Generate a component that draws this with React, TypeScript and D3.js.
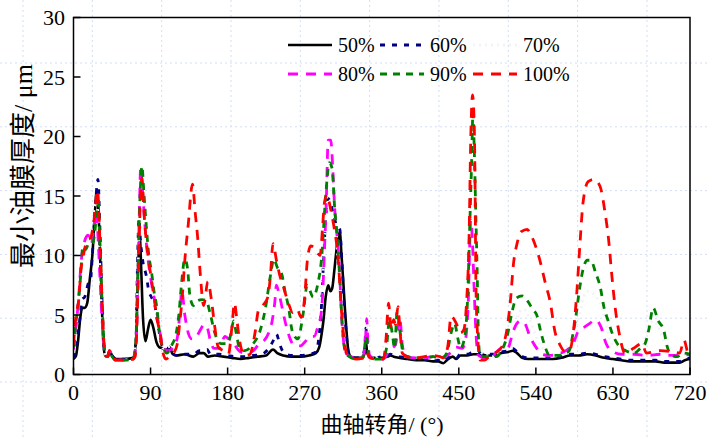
import React from "react";
import * as d3 from "d3";

type P = [number, number];

const xTicks = [0, 90, 180, 270, 360, 450, 540, 630, 720];
const yTicks = [0, 5, 10, 15, 20, 25, 30];

const s50: P[] = [
  [0, 1.3], [3, 1.6], [5, 2.6], [8, 4.8], [10, 5.6], [13, 5.6], [16, 6], [19, 8], [22, 10], [25, 13.5], [27, 15.4], [29, 14], [31, 10], [33, 6], [35, 2.5], [37, 1.6], [40, 1.5], [42, 2.0], [45, 1.6], [50, 1.3], [60, 1.3], [70, 1.4],
  [73, 3], [75, 8], [77.5, 11.5], [79, 9], [81, 5], [84, 2.8], [87, 3.8], [90, 4.6], [93, 4], [97, 2.7], [100, 2.3], [104, 2.2], [108, 2.0], [112, 2.3], [116, 1.7], [120, 1.6],
  [130, 1.7], [140, 1.5], [147, 1.8], [152, 1.8], [157, 1.5], [165, 1.6], [175, 1.5], [185, 1.4], [195, 1.3], [205, 1.4], [215, 1.5], [225, 1.6], [233, 2.1], [238, 1.8], [245, 1.6], [255, 1.5], [265, 1.5], [275, 1.6], [283, 1.8],
  [287, 2.3], [290, 3.5], [292, 4.6], [294.5, 6.5], [297.5, 7.5], [300, 7], [302, 7.2], [305, 9], [308, 11], [311, 12], [313, 10], [315, 7.9], [317, 5.5], [319, 3.5], [321, 2.0], [324, 1.5], [330, 1.4], [337, 1.4],
  [340, 1.8], [341.5, 2.8], [343, 1.8], [347, 1.5], [352, 1.4], [360, 1.4], [367, 1.5], [370, 1.6], [374, 1.5], [380, 1.4], [390, 1.3], [400, 1.2], [410, 1.2], [420, 1.1], [426, 1.1], [432, 0.95], [436, 1.2], [443, 1.5], [447, 1.3], [452, 1.6], [460, 1.6], [467, 1.7], [475, 1.7], [482, 1.6], [490, 1.6], [500, 1.8], [508, 1.9], [513, 2.0], [518, 1.8], [524, 1.4], [531, 1.3], [540, 1.3], [550, 1.3], [560, 1.3], [570, 1.4], [580, 1.6], [590, 1.6], [600, 1.7], [610, 1.6], [620, 1.4], [630, 1.3], [640, 1.2], [650, 1.1], [660, 1.1], [670, 1.1], [680, 1.1], [690, 1.0], [700, 1.0], [708, 1.0], [714, 1.2], [720, 1.3],
];

const s60: P[] = [
  [0, 1.4], [3, 2], [5, 3.3], [8, 5], [10, 6.3], [13, 6.5], [17, 7.6], [20, 8], [22, 10], [25, 13.5], [28.5, 16.4], [31, 12], [33, 7], [35, 3], [37, 1.6], [40, 1.5], [42, 2.0], [45, 1.6], [50, 1.3], [60, 1.3], [70, 1.4],
  [73, 3], [74.5, 8.5], [76.5, 13.1], [78, 11.5], [81, 9.5], [85, 8.3], [88, 7], [91, 6.5], [95, 5.8], [99, 4], [103, 2.5], [108, 2.0], [112, 2.3], [116, 1.8], [120, 1.6],
  [130, 1.7], [140, 1.7], [147, 2.0], [152, 2.0], [156, 2.1], [160, 1.7], [170, 1.7], [180, 1.6], [190, 1.5], [200, 1.5], [210, 1.6], [220, 1.7], [228, 2.2], [233, 2.8], [237, 3.4], [241, 2.5], [245, 1.9], [255, 1.6], [265, 1.6], [275, 1.7], [283, 1.9],
  [286, 2.8], [289, 5], [292, 9.5], [294.5, 13], [297, 14.8], [300, 14.5], [303, 13.6], [307, 12.6], [311, 12.2], [313.5, 9.5], [316, 6], [318.5, 3.5], [321, 1.9], [325, 1.5], [330, 1.4], [337, 1.5],
  [340, 2.2], [341.5, 3.9], [343.5, 2.0], [347, 1.5], [352, 1.4], [360, 1.5], [367, 1.6], [370, 1.7], [374, 1.6], [380, 1.5], [390, 1.4], [400, 1.3], [410, 1.3], [420, 1.2], [426, 1.2], [432, 1.1], [436, 1.3], [443, 1.6], [447, 1.4], [452, 1.7], [460, 1.7], [467, 1.9], [475, 1.8], [482, 1.7], [490, 1.7], [500, 1.9], [508, 2.0], [513, 2.2], [518, 1.9], [524, 1.5], [531, 1.4], [540, 1.4], [550, 1.4], [560, 1.4], [570, 1.5], [580, 1.7], [590, 1.7], [600, 1.8], [610, 1.7], [620, 1.5], [630, 1.4], [640, 1.3], [650, 1.2], [660, 1.2], [670, 1.2], [680, 1.2], [690, 1.1], [700, 1.1], [708, 1.1], [714, 1.3], [720, 1.4],
];

const s70: P[] = [
  [0, 2.2], [10, 9], [18, 11.3], [27, 14.5], [33, 5], [37, 1.6], [50, 1.2], [70, 1.3], [75, 8], [79, 17], [86, 11], [95, 6], [105, 2.2], [120, 3], [128, 8], [135, 6], [150, 5], [160, 4], [170, 2.4], [187, 3.5], [200, 1.9], [220, 3], [236, 8.5], [250, 4.5], [260, 2.8], [275, 5], [285, 6], [292, 9], [299, 18.5], [305, 14], [313, 5], [320, 1.6], [342, 4], [350, 1.3], [370, 3.5], [380, 4.5], [390, 1.5], [430, 1.4], [445, 3], [458, 3], [466, 18], [473, 2], [490, 1.5], [510, 3.5], [525, 5.5], [545, 2.5], [560, 1.6], [585, 3.5], [600, 7], [615, 6], [630, 2.5], [660, 2], [677, 4.5], [700, 1.6], [720, 1.7],
];

const s80: P[] = [
  [0, 2.1], [3, 4], [6, 6.5], [9, 9.5], [13, 11.2], [17, 11.7], [21, 11], [24, 12.5], [26.5, 13.8], [29, 11], [31, 8], [33, 5], [35, 3], [37, 1.7], [40, 1.5], [42, 2], [45, 1.5], [50, 1.2], [60, 1.2], [70, 1.3],
  [73, 2.5], [75, 7], [77, 14], [78.5, 17.5], [81, 15], [85.5, 10.7], [91, 7.7], [97, 5.4], [101, 3.5], [105, 2.3], [110, 2.0], [116, 2.2], [121, 3], [124, 5], [126.5, 7], [130, 5], [134, 3.5], [138, 3.0], [142, 3.0], [147, 3.6], [153, 4.2], [156, 4.0], [160, 2.8], [164, 2.2], [170, 2.2], [177, 3.2], [181, 3.0], [185, 2.9], [190, 2.3], [195, 1.9], [200, 1.8], [210, 2.0], [216, 2.5], [222, 2.8], [228, 3.5], [232, 4.5], [235, 6], [237, 7.5], [240, 6.8], [244, 5.5], [247, 4.5], [252, 3.2], [257, 2.5], [265, 2.4], [271, 2.8], [276, 3.2], [281, 3.2],
  [286, 4.2], [289, 5], [291, 6.8], [293, 10.3], [295, 14], [297.5, 19.7], [300.5, 19.7], [303, 17], [305, 14], [308, 11.5], [310, 9.8], [313, 5], [317, 2.1], [321, 1.6], [330, 1.4], [338, 1.5], [341, 3], [342.5, 4.7], [344, 2.5], [347, 1.4], [355, 1.3], [362, 1.3], [367, 1.8], [372, 2.2], [376, 2.5], [381, 4.8], [384, 2.5], [388, 1.5], [400, 1.4], [410, 1.4], [420, 1.5], [430, 1.4], [440, 1.8], [447, 2.3], [454, 2.2], [458, 3], [461, 6], [464, 13], [466, 11], [468, 7], [470, 3.5], [473, 1.6], [480, 1.4], [490, 1.6], [500, 2.2], [507, 2.2], [513, 3.5], [517, 4.2], [522, 4.5], [527, 4.3], [533, 3.2], [540, 2.3], [547, 1.7], [556, 1.6], [565, 1.7], [577, 2.1], [583, 2.5], [590, 3.7], [597, 4.0], [603, 4.3], [610, 4.6], [616, 4.0], [622, 2.6], [628, 2.0], [640, 1.7], [655, 1.7], [670, 1.6], [685, 1.7], [693, 1.6], [705, 1.6], [720, 1.7],
];

const s90: P[] = [
  [0, 2.3], [3, 4.5], [5, 5.5], [8, 8], [11, 10.8], [14, 10.5], [18, 11], [22, 11], [25, 12], [28.5, 15], [31, 11], [34, 5], [37, 1.6], [40, 1.5], [42, 2.0], [45, 1.5], [50, 1.2], [60, 1.2], [70, 1.4],
  [73, 3], [75, 8], [77, 13.5], [80, 17.5], [82, 15.5], [85, 12.5], [88, 10], [91, 8.7], [94, 7], [97, 5.8], [101, 3.2], [105, 2.2], [109, 1.8], [115, 2.5], [120, 3.5], [123, 5], [126, 7.5], [130, 9.7], [133, 9], [136, 6.6], [140, 5.8], [145, 6.2], [150, 6.3], [155, 6.2], [160, 5], [165, 3.5], [172, 2.6], [180, 2.6], [184, 3.5], [187, 4.5], [190, 3.5], [194, 2.2], [200, 2.0], [210, 2.6], [218, 3.7], [224, 5.5], [230, 8.3], [234, 9.7], [238, 9], [243, 8.5], [247, 7], [251, 5.7], [256, 3.5], [262, 3], [268, 5], [273, 7.5], [280, 6.5], [285, 7.5],
  [290, 10], [294, 14.5], [299, 17.8], [302, 17.3], [305, 14], [308, 11.5], [311, 8], [314, 4], [317, 2], [322, 1.5], [330, 1.3], [338, 1.4], [342, 3.2], [345, 1.5], [350, 1.3], [360, 1.3], [365, 2], [369, 4.5], [372, 3.6], [375, 2.2], [378, 5.3], [381, 3.8], [385, 1.8], [390, 1.5], [400, 1.4], [410, 1.4], [420, 1.5], [430, 1.4], [436, 1.8], [441, 3.5], [445, 4.3], [449, 3], [452, 2.2], [457, 3.2], [460, 6], [463, 13], [465, 18], [466.5, 22], [468, 19], [470, 13], [471.5, 8.5], [473, 3], [475, 1.5], [485, 1.5], [494, 1.5], [500, 2.0], [507, 3.4], [512, 5.2], [517, 6.4], [524, 6.6], [530, 6.2], [537, 5.4], [541, 5], [546, 3.5], [550, 2.5], [556, 1.6], [565, 1.6], [575, 1.8], [579, 2], [583, 3.3], [586, 4.5], [591, 7.2], [595, 8.8], [600, 9.6], [604, 9.6], [610, 8.5], [615, 7.4], [620, 5.5], [624, 4.6], [630, 3.3], [637, 2.4], [645, 2.0], [655, 1.8], [662, 2.2], [667, 2.5], [672, 3.8], [677, 5.6], [683, 4.5], [689, 3.8], [694, 2.2], [699, 1.6], [705, 1.5], [712, 1.8], [720, 1.7],
];

const s100: P[] = [
  [0, 2.5], [3, 5], [6, 6.2], [9, 9], [12, 10.2], [16, 11.3], [20, 11.5], [24, 13], [28, 15.5], [31, 11], [34, 5], [37, 1.6], [40, 1.5], [42, 2.0], [45, 1.5], [50, 1.2], [60, 1.2], [70, 1.3],
  [72, 1.5], [74, 4], [76, 9], [78, 14.5], [80, 16.5], [82, 14], [84, 12], [87, 10], [91, 8], [95, 6], [98, 4.5], [101, 3.6], [104, 2], [108, 1.3], [112, 1.5], [117, 1.8], [121, 2.5], [124, 4.3], [127, 6.5], [130, 9.6], [134, 12.6], [139, 16], [142, 13.7], [145, 11.5], [148, 8.5], [152, 5.8], [157, 7.8], [161, 6.3], [165, 4], [169, 2.3], [175, 2], [181, 1.7], [185, 4], [188, 6], [191, 4.5], [194, 2.8], [200, 1.6], [206, 1.7], [212, 3.5], [216, 5.4], [221, 5.8], [227, 6.5], [230, 8.3], [233, 11], [237, 9.6], [241, 8.3], [245, 7.4], [251, 6], [256, 5.2], [261, 5.5], [266, 4.8], [270, 6.5], [273, 9.5], [277, 10.8], [282, 10.6], [288, 10],
  [291, 12.5], [293, 14.4], [296, 15.1], [300, 14], [304, 12.5], [309, 9.8], [313, 5.3], [317, 2.4], [321, 1.5], [330, 1.3], [338, 1.4], [342, 1.9], [346, 1.4], [355, 1.3], [362, 1.3], [365, 3], [368, 6], [371, 3.8], [374, 4.6], [376, 4.2], [379, 5.7], [381, 4], [384, 1.8], [390, 1.5], [400, 1.4], [410, 1.5], [420, 1.6], [428, 1.5], [432, 1.4], [437, 2.3], [441, 4.9], [447, 4.3], [452, 3.5], [456, 3.8], [459, 6], [462, 11.6], [464, 20], [466, 23.5], [468, 21], [469, 15.8], [470, 7.5], [472, 3.2], [475, 1.2], [480, 1.2], [485, 1.5], [492, 1.8], [500, 2.3], [506, 3.7], [510, 6], [514, 9.4], [518, 11], [523, 12], [530, 12.2], [533, 11.9], [537, 11.3], [545, 9.5], [551, 7.7], [557, 6], [562, 3.7], [568, 2.5], [573, 2.0], [579, 2.0], [584, 3.7], [588, 7.1], [591.5, 11], [595, 14.4], [601, 16.2], [608, 16.4], [615, 15.8], [621, 13.5], [625, 11.3], [628.5, 8.5], [632, 6], [638, 3.2], [644, 1.8], [654, 2.2], [664, 2.6], [669, 1.8], [677, 1.9], [685, 2.0], [700, 1.9], [708, 1.8], [713, 2.9], [718, 1.8], [720, 1.9],
];

const seriesNames = ["50%", "60%", "70%", "80%", "90%", "100%"];
const seriesData = [s50, s60, s70, s80, s90, s100];
const seriesColors = ["#000000", "#000080", "#f3f3f6", "#ff00ff", "#008000", "#ff0000"];
const seriesDash = ["none", "5,7", "2,4", "10,8", "7,6", "10,8"];

const W = 709;
const H = 437;
const L = 73.5, R = 690, T = 17.5, B = 374.5;
const serif = "'Liberation Serif', 'Times New Roman', serif";
const cjk = "'Liberation Serif', 'Noto Sans CJK SC', serif";

export default function App() {
  const x = d3.scaleLinear().domain([0, 720]).range([L, R]);
  const y = d3.scaleLinear().domain([0, 30]).range([B, T]);
  const line = d3
    .line<P>()
    .x((d) => x(d[0]))
    .y((d) => y(d[1]))
    .curve(d3.curveMonotoneX);

  const gridX = d3.range(10).map((k) => 23 + k * 69.33);
  const gridY = d3.range(6).map((k) => 63 + k * 63.8);

  const legendPos = [
    [288, 45], [380, 45], [473, 45],
    [288, 74], [380, 74], [473, 74],
  ];

  return (
    <svg
      width={W}
      height={H}
      style={{ position: "absolute", left: 0, top: 0, background: "#fff" }}
    >
      <rect x={0} y={0} width={W} height={H} fill="#fff" />
      <g stroke="#d3ddf6" strokeWidth={1} strokeDasharray="2,3">
        {gridX.map((gx, i) => (
          <line key={"gx" + i} x1={gx} x2={gx} y1={0} y2={H} />
        ))}
        {gridY.map((gy, i) => (
          <line key={"gy" + i} x1={0} x2={W} y1={gy} y2={gy} />
        ))}
      </g>
      <defs>
        <clipPath id="plotclip">
          <rect x={L} y={T} width={R - L} height={B - T} />
        </clipPath>
      </defs>
      <g clipPath="url(#plotclip)">
        {seriesData.map((d, i) => (
          <path
            key={seriesNames[i]}
            d={line(d) || ""}
            fill="none"
            stroke={seriesColors[i]}
            strokeWidth={i === 0 ? 2.6 : 2.8}
            strokeDasharray={seriesDash[i]}
            strokeLinejoin="round"
          />
        ))}
      </g>
      <rect x={L} y={T} width={R - L} height={B - T} fill="none" stroke="#000" strokeWidth={1.5} />
      {xTicks.map((t) => (
        <g key={"xt" + t}>
          <line x1={x(t)} x2={x(t)} y1={B} y2={B - 7} stroke="#000" strokeWidth={1.5} />
          <text x={x(t)} y={400} textAnchor="middle" fontFamily={serif} fontSize={22} fill="#000">
            {t}
          </text>
        </g>
      ))}
      {yTicks.map((t) => (
        <g key={"yt" + t}>
          <line x1={L} x2={L + 7} y1={y(t)} y2={y(t)} stroke="#000" strokeWidth={1.5} />
          <text x={65} y={y(t) + 7.5} textAnchor="end" fontFamily={serif} fontSize={22} fill="#000">
            {t}
          </text>
        </g>
      ))}
      <text x={382} y={432} textAnchor="middle" fontFamily={cjk} fontSize={22} fill="#000">
        曲轴转角/ (°)
      </text>
      <text
        transform="translate(32,166) rotate(-90)"
        textAnchor="middle"
        fontFamily={cjk}
        fontSize={26}
        fill="#000"
      >
        最小油膜厚度/ μm
      </text>
      {seriesNames.map((n, i) => {
        const [lx, ly] = legendPos[i];
        return (
          <g key={"lg" + n}>
            <line
              x1={lx}
              x2={lx + 44}
              y1={ly}
              y2={ly}
              stroke={seriesColors[i]}
              strokeWidth={i === 0 ? 2.6 : 2.8}
              strokeDasharray={seriesDash[i]}
            />
            <text x={lx + 50} y={ly + 7} fontFamily={serif} fontSize={20} fill="#000">
              {n}
            </text>
          </g>
        );
      })}
    </svg>
  );
}
